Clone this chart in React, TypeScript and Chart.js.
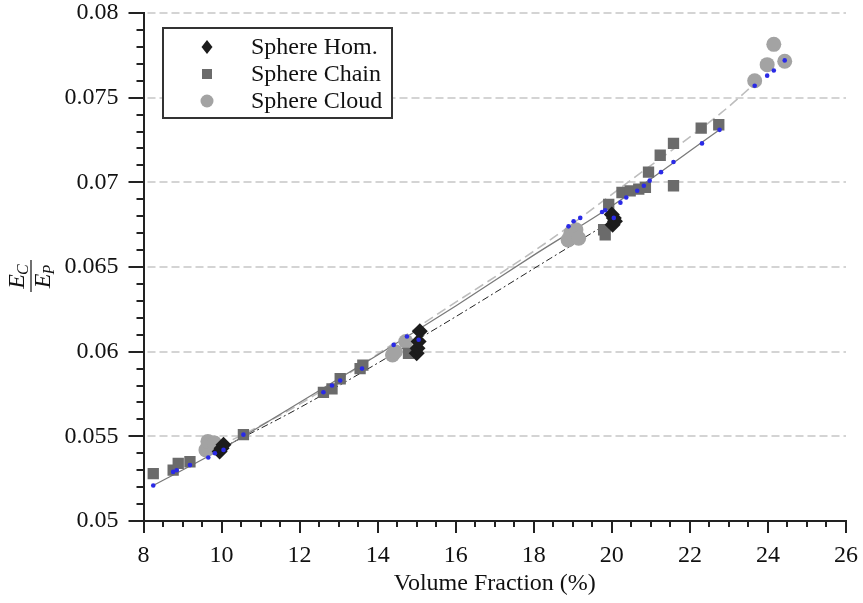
import React, { useEffect, useRef } from "react";
import { Chart, registerables } from "chart.js";

Chart.register(...registerables);

const FONT = "'Liberation Serif', 'Times New Roman', serif";

// ---- data ----
const homX = [9.95, 10.0, 10.05, 15.0, 15.02, 15.05, 15.08, 20.0, 20.02, 20.05, 20.08];
const homY = [0.0541, 0.0543, 0.0545, 0.0599, 0.0602, 0.0606, 0.0612, 0.0681, 0.0675, 0.0679, 0.0677];

const chainX = [8.25, 8.76, 8.89, 9.19, 10.56, 12.61, 12.83, 13.04, 13.55, 13.62, 14.79, 19.79, 19.83, 19.92, 20.26, 20.47, 20.69, 20.86, 20.94, 21.24, 21.58, 21.58, 22.29, 22.74];
const chainY = [0.0528, 0.053, 0.0534, 0.0535, 0.0551, 0.0576, 0.0578, 0.0584, 0.059, 0.0592, 0.0599, 0.0672, 0.0669, 0.0687, 0.0694, 0.0695, 0.0696, 0.0697, 0.0706, 0.0716, 0.0723, 0.0698, 0.0732, 0.0734];

const cloudX = [9.6, 9.65, 9.82, 14.38, 14.45, 14.72, 18.88, 18.95, 19.08, 19.15, 23.66, 23.98, 24.15, 24.43];
const cloudY = [0.0542, 0.0547, 0.0546, 0.0598, 0.06, 0.0606, 0.0666, 0.067, 0.0672, 0.0667, 0.076, 0.07695, 0.07815, 0.07715];

const modelX = [8.25, 8.76, 8.85, 9.19, 9.66, 9.83, 10.05, 10.56, 12.61, 12.83, 13.04, 13.6, 14.41, 14.75, 15.05, 18.89, 19.02, 19.19, 19.75, 19.83, 20.05, 20.22, 20.37, 20.65, 20.82, 20.97, 21.26, 21.58, 22.31, 22.76, 23.66, 23.98, 24.15, 24.43];
const modelY = [0.0521, 0.0529, 0.053, 0.0533, 0.05375, 0.054, 0.0542, 0.0551, 0.0576, 0.058, 0.0583, 0.059, 0.0604, 0.0609, 0.0607, 0.0674, 0.0677, 0.0679, 0.06825, 0.06835, 0.0679, 0.0688, 0.0691, 0.0695, 0.0698, 0.0701, 0.0706, 0.0712, 0.0723, 0.0731, 0.0757, 0.0763, 0.0766, 0.0772];

const solidX = [8.25, 10, 12, 14, 16, 18, 20, 22.76];
const solidY = [0.0521, 0.05425, 0.057, 0.0598, 0.0627, 0.0657, 0.0686, 0.0731];

const dashX = [9.6, 12, 15.52, 18.42, 20.47, 22.8, 23.7];
const dashY = [0.054, 0.0569, 0.0622, 0.0666, 0.0701, 0.0741, 0.0759];

const dashDotX = [10.0, 11.93, 15.52, 18.42, 20.05];
const dashDotY = [0.0543, 0.0566, 0.0614, 0.0655, 0.0678];

const legendLabels = ["Sphere Hom.", "Sphere Chain", "Sphere Cloud"];
const yGridValues = [0.055, 0.06, 0.065, 0.07, 0.075, 0.08];
const xLabel = "Volume Fraction (%)";

const C_HOM = "#1c1c1c";
const C_CHAIN = "#6b6b6b";
const C_CLOUD = "#a3a3a3";
const C_MODEL = "#2a2ae6";

const pts = (xs: number[], ys: number[]) => xs.map((x, i) => ({ x, y: ys[i] }));

const decor = {
  id: "decor",
  beforeDatasetsDraw(chart: any) {
    const { ctx, chartArea, scales } = chart;
    const y = scales.y;
    ctx.save();
    ctx.strokeStyle = "#d4d4d4";
    ctx.lineWidth = 2;
    ctx.setLineDash([8, 4]);
    for (const v of yGridValues) {
      const py = Math.round(y.getPixelForValue(v));
      ctx.beginPath();
      ctx.moveTo(chartArea.left + 4, py);
      ctx.lineTo(chartArea.right, py);
      ctx.stroke();
    }
    ctx.restore();
  },
  afterDraw(chart: any) {
    const { ctx, chartArea, scales } = chart;
    const x = scales.x;
    const y = scales.y;
    ctx.save();
    ctx.strokeStyle = "#222";
    ctx.lineWidth = 2;
    // x ticks
    for (let i = 0; i <= 36; i++) {
      const v = 8 + i * 0.5;
      const px = Math.round(x.getPixelForValue(v));
      const len = i % 4 === 0 ? 12 : 6;
      ctx.beginPath();
      ctx.moveTo(px, chartArea.bottom);
      ctx.lineTo(px, chartArea.bottom + len);
      ctx.stroke();
    }
    // y ticks
    for (let i = 0; i <= 30; i++) {
      const v = 0.05 + i * 0.001;
      const py = Math.round(y.getPixelForValue(v));
      const len = i % 5 === 0 ? 15 : 7;
      ctx.beginPath();
      ctx.moveTo(chartArea.left, py);
      ctx.lineTo(chartArea.left - len, py);
      ctx.stroke();
    }
    ctx.restore();

    // legend
    ctx.save();
    const bx = 163, by = 28, bw = 229, bh = 90;
    ctx.fillStyle = "#fff";
    ctx.fillRect(bx, by, bw, bh);
    ctx.strokeStyle = "#333";
    ctx.lineWidth = 2;
    ctx.strokeRect(bx, by, bw, bh);
    const rows = [47, 74, 101];
    const sx = 207;
    // diamond
    ctx.fillStyle = C_HOM;
    ctx.beginPath();
    ctx.moveTo(sx, rows[0] - 7);
    ctx.lineTo(sx + 5.5, rows[0]);
    ctx.lineTo(sx, rows[0] + 7);
    ctx.lineTo(sx - 5.5, rows[0]);
    ctx.closePath();
    ctx.fill();
    // square
    ctx.fillStyle = C_CHAIN;
    ctx.fillRect(sx - 5, rows[1] - 5, 10, 10);
    // circle
    ctx.fillStyle = C_CLOUD;
    ctx.beginPath();
    ctx.arc(sx, rows[2], 6.5, 0, Math.PI * 2);
    ctx.fill();
    ctx.fillStyle = "#111";
    ctx.font = `24px ${FONT}`;
    ctx.textBaseline = "middle";
    ctx.textAlign = "left";
    legendLabels.forEach((t, i) => ctx.fillText(t, 251, rows[i] + 1));
    ctx.restore();

    // y axis title: E_C / E_P (rotated fraction)
    ctx.save();
    ctx.translate(31, 276);
    ctx.rotate(-Math.PI / 2);
    ctx.fillStyle = "#111";
    ctx.strokeStyle = "#111";
    const drawSub = (base: string, sub: string, baseline: number) => {
      ctx.font = `italic 24px ${FONT}`;
      const w1 = ctx.measureText(base).width;
      ctx.font = `italic 16px ${FONT}`;
      const w2 = ctx.measureText(sub).width;
      const start = -(w1 + w2) / 2;
      ctx.font = `italic 24px ${FONT}`;
      ctx.textAlign = "left";
      ctx.textBaseline = "alphabetic";
      ctx.fillText(base, start, baseline);
      ctx.font = `italic 16px ${FONT}`;
      ctx.fillText(sub, start + w1 - 1, baseline + 4);
    };
    drawSub("E", "C", -7);
    ctx.lineWidth = 1.2;
    ctx.beginPath();
    ctx.moveTo(-16, 0);
    ctx.lineTo(16, 0);
    ctx.stroke();
    drawSub("E", "P", 19);
    ctx.restore();
  },
};

export default function App() {
  const ref = useRef<HTMLCanvasElement | null>(null);

  useEffect(() => {
    if (!ref.current) return;
    const lineBase = {
      pointRadius: 0,
      showLine: true,
      fill: false,
      cubicInterpolationMode: "monotone" as const,
    };
    const chart = new Chart(ref.current, {
      type: "scatter",
      data: {
        datasets: [
          {
            label: "model",
            data: pts(modelX, modelY),
            backgroundColor: C_MODEL,
            borderColor: C_MODEL,
            pointRadius: 2.3,
            pointBorderWidth: 0,
            order: 0,
          },
          {
            label: legendLabels[0],
            data: pts(homX, homY),
            pointStyle: "rectRot",
            backgroundColor: C_HOM,
            borderColor: C_HOM,
            pointRadius: 8,
            pointBorderWidth: 0,
            order: 1,
          },
          {
            label: legendLabels[1],
            data: pts(chainX, chainY),
            pointStyle: "rect",
            backgroundColor: C_CHAIN,
            borderColor: C_CHAIN,
            pointRadius: 8,
            pointBorderWidth: 0,
            order: 2,
          },
          {
            label: legendLabels[2],
            data: pts(cloudX, cloudY),
            pointStyle: "circle",
            backgroundColor: C_CLOUD,
            borderColor: C_CLOUD,
            pointRadius: 7.5,
            pointBorderWidth: 0,
            order: 3,
          },
          {
            label: "fit solid",
            data: pts(solidX, solidY),
            ...lineBase,
            borderColor: "#7a7a7a",
            borderWidth: 1.3,
            order: 4,
          },
          {
            label: "fit dashed",
            data: pts(dashX, dashY),
            ...lineBase,
            borderColor: "#bdbdbd",
            borderWidth: 1.6,
            borderDash: [10, 5],
            order: 5,
          },
          {
            label: "fit dash-dot",
            data: pts(dashDotX, dashDotY),
            ...lineBase,
            borderColor: "#222",
            borderWidth: 1,
            borderDash: [7, 3, 2, 3],
            order: 6,
          },
        ],
      },
      options: {
        animation: false,
        responsive: true,
        maintainAspectRatio: false,
        layout: { autoPadding: false, padding: { left: 0, top: 13, right: 17, bottom: 0 } },
        plugins: {
          legend: { display: false },
          tooltip: { enabled: false },
          title: { display: false },
        },
        scales: {
          x: {
            type: "linear",
            min: 8,
            max: 26,
            ticks: {
              stepSize: 2,
              padding: 20,
              color: "#111",
              font: { family: FONT, size: 24 },
              maxRotation: 0,
            },
            grid: { display: false, drawTicks: false },
            border: { display: true, color: "#222", width: 2 },
            title: {
              display: true,
              text: xLabel,
              color: "#111",
              font: { family: FONT, size: 24 },
              padding: { top: 4, bottom: 5 },
            },
            afterFit: (s: any) => {
              s.height = 82;
              s.paddingLeft = 0;
              s.paddingRight = 0;
            },
          },
          y: {
            type: "linear",
            min: 0.05,
            max: 0.08,
            ticks: {
              stepSize: 0.005,
              padding: 25,
              color: "#111",
              font: { family: FONT, size: 24 },
              callback: (v: any) => String(+Number(v).toFixed(3)),
            },
            grid: { display: false, drawTicks: false },
            border: { display: true, color: "#222", width: 2 },
            afterFit: (s: any) => {
              s.width = 143.5;
              s.paddingTop = 0;
              s.paddingBottom = 0;
            },
          },
        },
      },
      plugins: [decor],
    });
    return () => chart.destroy();
  }, []);

  return (
    <div style={{ position: "absolute", left: 0, top: 0, width: 863, height: 603, background: "#fff" }}>
      <canvas ref={ref} />
    </div>
  );
}
